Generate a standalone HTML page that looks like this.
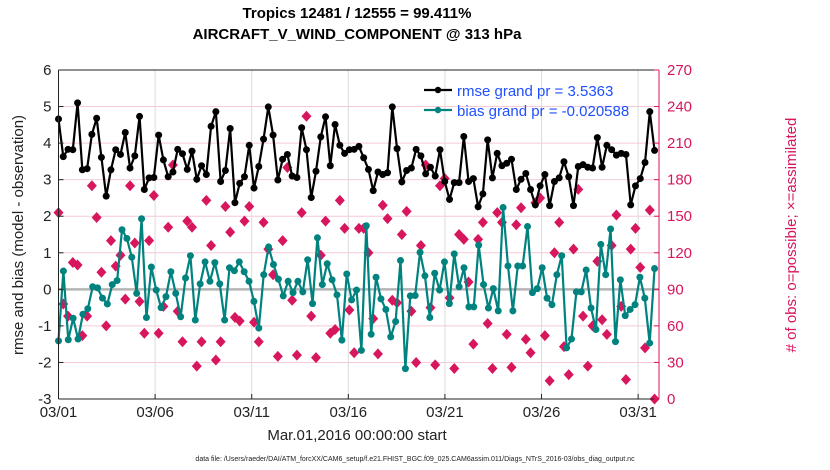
<!DOCTYPE html>
<html><head><meta charset="utf-8"><style>
body{margin:0;background:#fff;}
svg{display:block;font-family:"Liberation Sans",sans-serif;}
</style></head><body>
<svg id="chart" width="830" height="470"></svg>
<script>
const rmse=[4.66,3.63,3.83,3.82,5.10,3.27,3.30,4.24,4.68,3.61,2.55,3.27,3.82,3.69,4.29,3.32,3.65,4.73,2.73,3.05,3.06,4.22,3.54,3.08,3.21,3.83,3.71,3.28,3.78,3.01,3.38,3.14,4.46,4.86,2.95,3.25,4.40,2.37,2.90,3.08,3.94,2.77,3.36,4.11,4.99,4.22,2.99,3.56,3.69,3.10,3.06,4.42,3.82,2.51,3.23,4.17,4.72,3.38,4.51,3.94,3.72,3.82,
3.83,3.91,3.60,3.28,2.70,3.21,3.14,3.19,4.99,3.85,2.94,3.25,3.32,3.83,3.65,3.16,3.34,3.10,3.82,2.95,2.46,2.92,2.92,4.18,2.95,3.03,2.26,2.61,4.09,3.05,3.72,3.38,3.45,3.56,2.73,3.01,3.17,2.73,2.31,2.83,3.14,2.29,2.95,3.05,3.49,3.08,2.29,3.36,3.41,3.34,3.32,4.15,3.34,3.94,3.82,3.67,3.72,3.69,2.31,2.83,3.03,3.47,4.86,3.80];
const bias=[-1.41,0.50,-1.38,-0.79,-1.36,-0.68,-0.53,0.07,0.04,-0.24,-0.40,0.13,0.24,1.63,1.39,0.88,-0.11,1.93,-0.77,0.61,-0.02,-0.50,-0.20,0.48,-0.11,-0.75,0.31,0.92,-0.84,0.15,0.75,0.22,0.73,0.15,-0.84,0.59,0.51,0.75,0.48,0.22,-0.33,-1.06,0.40,1.16,0.68,0.28,-0.18,0.22,-0.09,0.22,-0.07,0.81,-0.39,1.41,0.13,0.70,0.26,-0.15,-1.39,0.42,-0.29,-0.02,-1.67,1.74,-1.23,0.33,
-0.26,-0.55,-1.30,-0.88,0.79,-2.17,-0.18,-0.17,1.01,0.37,-0.77,0.44,-0.02,0.75,-0.39,0.97,0.07,0.59,-0.48,-0.48,1.21,0.13,-0.51,0.02,-0.59,2.24,0.64,-0.59,0.64,0.64,1.72,-0.09,0.02,0.59,-0.24,-0.42,0.40,0.92,-1.60,-1.36,-0.07,-0.07,0.53,-0.51,-1.10,1.23,0.40,1.65,-1.43,0.26,-0.72,-0.55,-0.42,0.33,-0.24,-1.47,0.57];
const obsCount=[153,78,68,112,110,52,68,175,149,104,60,130,109,118,82,175,128,80,54,130,167,54,76,141,192,72,47,146,141,27,47,163,126,32,47,158,137,67,64,146,158,63,47,145,123,102,35,130,190,81,36,153,232,68,34,118,146,54,57,163,140,73,38,140,
140,120,66,37,159,148,81,79,135,154,72,30,126,192,75,28,175,181,83,25,135,131,96,45,131,145,62,25,153,145,53,26,143,157,49,38,161,165,52,15,120,145,43,20,123,172,68,27,60,113,65,53,126,151,76,16,123,140,108,42,155,0];
const xTicks=["03/01","03/06","03/11","03/16","03/21","03/26","03/31"];
const yTicks=[-3,-2,-1,0,1,2,3,4,5,6];
const rTicks=[0,30,60,90,120,150,180,210,240,270];

const NS="http://www.w3.org/2000/svg";
const svg=document.getElementById('chart');
const L=58.5,R=659,T=70,B=399,XMAX=31.08,TEND=30.85;
const xs=d=>L+d/XMAX*(R-L);
const ys=v=>B-(v+3)/9*(B-T);
const yr=c=>B-c/270*(B-T);
const tOf=(i,n)=>i*TEND/(n-1);
function mk(tag,attrs,parent){const e=document.createElementNS(NS,tag);for(const k in attrs)e.setAttribute(k,attrs[k]);(parent||svg).appendChild(e);return e;}

const grid=mk('g',{});


yTicks.forEach(v=>{if(v>-3&&v<6)mk('line',{x1:L,x2:R,y1:ys(v),y2:ys(v),stroke:'#f5c9d8','stroke-width':1},grid);});
xTicks.forEach((t,i)=>{const x=xs(i*5);mk('line',{x1:x,x2:x,y1:T,y2:B,stroke:'#dcdcdc','stroke-width':1},grid);});
mk('line',{x1:L,x2:R,y1:ys(0),y2:ys(0),stroke:'#b4b4b4','stroke-width':2.5},grid);

const og=mk('g',{});


obsCount.forEach((c,i)=>{const x=xs(tOf(i,obsCount.length)),y=yr(c);
 const p=mk('path',{d:`M${x} ${y-5.5}L${x+5} ${y}L${x} ${y+5.5}L${x-5} ${y}Z`,fill:'#d7165e'},og);
 
 });

function series(arr,color,name){
 const g=mk('g',{});
 
 
 const pts=arr.map((v,i)=>[xs(tOf(i,arr.length)),ys(v)]);
 mk('polyline',{points:pts.map(p=>p.join(',')).join(' '),fill:'none',stroke:color,'stroke-width':2.2},g);
 pts.forEach(p=>{const c=mk('circle',{cx:p[0],cy:p[1],r:3.5,fill:color},g);
  
  });
}
series(bias,'#00827f','bias-series');
series(rmse,'#000','rmse-series');

const ax=mk('g',{});


mk('line',{x1:L,x2:R,y1:T,y2:T,stroke:'#222','stroke-width':1},ax);
mk('line',{x1:L,x2:R,y1:B,y2:B,stroke:'#222','stroke-width':1},ax);
mk('line',{x1:L,x2:L,y1:T,y2:B,stroke:'#222','stroke-width':1},ax);
mk('line',{x1:R,x2:R,y1:T,y2:B,stroke:'#d7165e','stroke-width':1},ax);
yTicks.forEach(v=>{const y=ys(v);mk('line',{x1:L,x2:L+5,y1:y,y2:y,stroke:'#222'},ax);
 const t=mk('text',{x:L-7,y:y+5,'text-anchor':'end','font-size':15,fill:'#222'},ax);t.textContent=v;
 });
rTicks.forEach(c=>{const y=yr(c);mk('line',{x1:R-5,x2:R,y1:y,y2:y,stroke:'#d7165e'},ax);
 const t=mk('text',{x:R+8,y:y+5,'font-size':15,fill:'#d7165e'},ax);t.textContent=c;
 });
xTicks.forEach((s,i)=>{const x=xs(i*5);mk('line',{x1:x,x2:x,y1:B-5,y2:B,stroke:'#222'},ax);
 const t=mk('text',{x:x,y:417,'text-anchor':'middle','font-size':15,fill:'#222'},ax);t.textContent=s;
 });
</script>
<svg width="830" height="470" style="position:absolute;left:0;top:0">
<text x="357" y="18" text-anchor="middle" font-size="15" font-weight="bold" font-family="Liberation Sans,sans-serif">Tropics 12481 / 12555 = 99.411%</text>
<text x="357" y="39" text-anchor="middle" font-size="15" font-weight="bold" font-family="Liberation Sans,sans-serif">AIRCRAFT_V_WIND_COMPONENT @ 313 hPa</text>
<text x="357" y="440" text-anchor="middle" font-size="15" fill="#222" font-family="Liberation Sans,sans-serif">Mar.01,2016 00:00:00 start</text>
<text x="415" y="461" text-anchor="middle" font-size="7" fill="#222" font-family="Liberation Sans,sans-serif">data file: /Users/raeder/DAI/ATM_forcXX/CAM6_setup/f.e21.FHIST_BGC.f09_025.CAM6assim.011/Diags_NTrS_2016-03/obs_diag_output.nc</text>
<text transform="translate(23,235) rotate(-90)" text-anchor="middle" font-size="15" fill="#222" font-family="Liberation Sans,sans-serif">rmse and bias (model - observation)</text>
<text transform="translate(796,235) rotate(-90)" text-anchor="middle" font-size="15" fill="#d7165e" font-family="Liberation Sans,sans-serif"># of obs: o=possible; ×=assimilated</text>
<g font-family="Liberation Sans,sans-serif" font-size="15" fill="#1f4fff">
<line x1="424" x2="452" y1="90" y2="90" stroke="#000" stroke-width="2.2"/><circle cx="438" cy="90" r="3.2" fill="#000"/>
<text x="457" y="96">rmse grand pr = 3.5363</text>
<line x1="424" x2="452" y1="110" y2="110" stroke="#00827f" stroke-width="2.2"/><circle cx="438" cy="110" r="3.2" fill="#00827f"/>
<text x="457" y="116">bias grand pr = -0.020588</text>
</g>
</svg>
</body></html>
